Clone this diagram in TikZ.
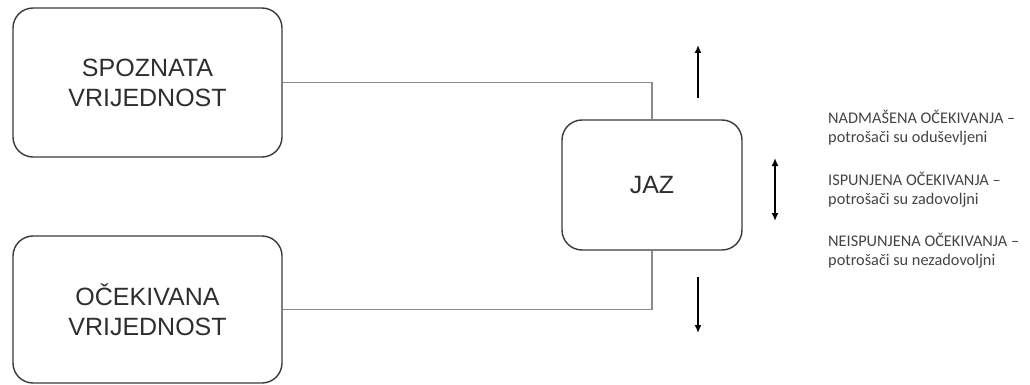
\documentclass[tikz,border=0pt]{standalone}
\usepackage{fontspec}
\setmainfont{Liberation Sans}
\newfontfamily\notefont{Carlito}
\usepackage{tikz}
\usetikzlibrary{arrows.meta}
\definecolor{boxline}{HTML}{3A3A3A}
\definecolor{boxtext}{HTML}{2E2E2E}
\definecolor{connline}{HTML}{8A8A8A}
\definecolor{notetext}{HTML}{444444}
\tikzstyle{valbox}=[draw=boxline,line width=1.4,rounded corners=20,align=center,text=boxtext,
                    font=\fontsize{25}{30}\selectfont,inner sep=0]
\tikzstyle{conn}=[draw=connline,line width=1.1]
\tikzstyle{gapmove}=[line width=1.8,black,-{Latex[length=8,width=7]}]
\tikzstyle{gapboth}=[line width=1.8,black,{Latex[length=8,width=7]}-{Latex[length=8,width=7]}]
\tikzstyle{note}=[anchor=north west,align=left,inner sep=0,text=notetext,
                  font=\notefont\fontsize{16.3}{18.5}\selectfont]

\begin{document}
\begin{tikzpicture}[x=1pt,y=-1pt]
  \def\W{269}  % value box width
  \def\xa{698} % single arrows x position
  \def\xb{775} % double arrow x position
  \def\xn{828} % notes x position
  \useasboundingbox (0,0) rectangle (1030,385);

  % BOXES
  \node[valbox,minimum width=\W,minimum height=149] (spoz) at (147.5,82.5) {SPOZNATA\\VRIJEDNOST};
  \node[valbox,minimum width=\W,minimum height=147] (ocek) at (147.5,309.5) {OČEKIVANA\\VRIJEDNOST};
  \node[valbox,minimum width=180,minimum height=130] (jaz) at (652,185) {JAZ};

  % CONNECTORS
  \draw[conn] (spoz.east) -| (jaz.north);
  \draw[conn] (ocek.east) -| (jaz.south);

  % ARROWS
  \coordinate (upS) at (\xa,98);
  \coordinate (upE) at (\xa,45);
  \coordinate (midS) at (\xb,158);
  \coordinate (midE) at (\xb,221);
  \coordinate (dnS) at (\xa,277);
  \coordinate (dnE) at (\xa,333);
  \draw[gapmove] (upS) -- (upE);
  \draw[gapboth] (midS) -- (midE);
  \draw[gapmove] (dnS) -- (dnE);

  % NOTES
  \node[note] (over) at (\xn,110) {NADMAŠENA OČEKIVANJA –\\potrošači su oduševljeni};
  \node[note] (meet) at (\xn,172) {ISPUNJENA OČEKIVANJA –\\potrošači su zadovoljni};
  \node[note] (under) at (\xn,233) {NEISPUNJENA OČEKIVANJA –\\potrošači su nezadovoljni};

\end{tikzpicture}
\end{document}
